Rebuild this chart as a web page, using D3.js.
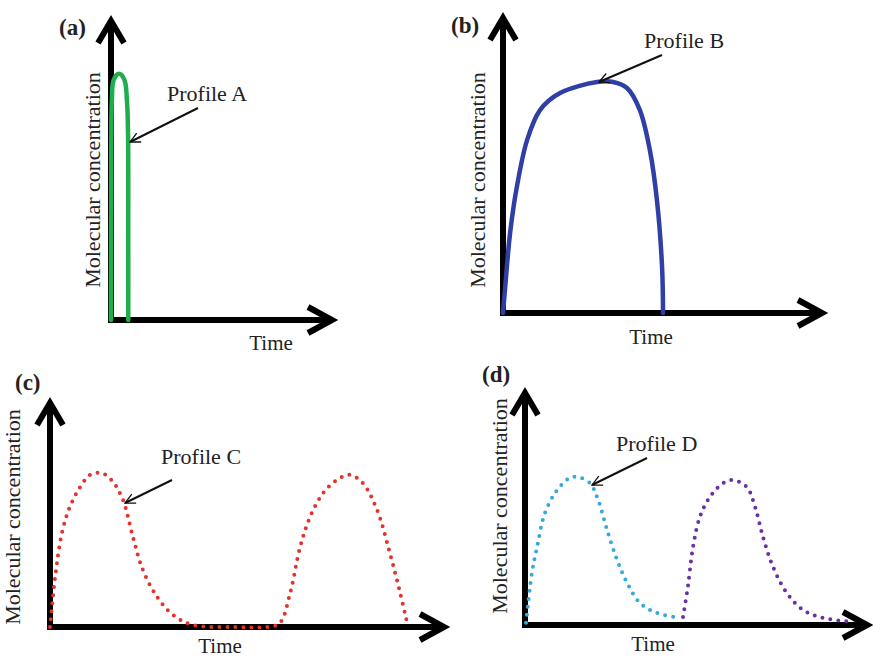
<!DOCTYPE html>
<html>
<head>
<meta charset="utf-8">
<script src="https://cdn.jsdelivr.net/npm/d3@7"></script>
</head>
<body style="margin:0;background:#fff">
<script>
// values (time, concentration), both on a 0-10 axis
var profileA = [[0,0],[0.01,4],[0.04,7.3],[0.12,7.95],[0.36,8.15],[0.6,7.95],[0.71,7.28],[0.76,6.2],[0.77,3],[0.77,0]];
var profileB = [[0,0],[0.06,0.77],[0.22,2.68],[0.43,4.23],[0.75,5.81],[1.15,6.81],[1.77,7.38],[2.92,7.75],
                [3.42,7.75],[3.85,7.55],[4.25,6.81],[4.56,5.47],[4.78,3.79],[4.94,1.54],[4.97,0]];
var profileC = [[0,0],[0.13,2.2],[0.3,4.14],[0.5,5.29],[0.76,6.17],[1.01,6.7],[1.31,6.78],[1.59,6.39],[1.84,5.59],
                [2.09,3.96],[2.34,2.51],[2.7,1.32],[3.1,0.53],[3.6,0.09],[4.61,0],[5.47,0],[5.79,0.18],[6.05,1.5],
                [6.3,3.52],[6.55,4.85],[6.88,5.9],[7.23,6.48],[7.56,6.7],[7.88,6.34],[8.24,5.15],[8.56,3.26],
                [8.82,1.5],[9.02,0]];
var profileD1 = [[0.03,0.1],[0.06,0.51],[0.2,2.21],[0.35,3.32],[0.58,4.77],[0.93,5.74],[1.3,6.26],[1.51,6.3],
                 [1.88,6.04],[2.12,5.32],[2.38,4.04],[2.67,2.77],[2.96,1.79],[3.33,0.94],[3.83,0.51],[4.49,0.3]];
var profileD2 = [[4.58,0.34],[4.72,1.62],[4.87,3.32],[5.07,4.6],[5.36,5.45],[5.74,6.04],[6.03,6.17],[6.43,5.87],
                 [6.67,5.02],[6.9,3.74],[7.19,2.47],[7.59,1.36],[8.06,0.64],[8.64,0.3],[9.51,0.13]];

var panelLabels = ["(a)", "(b)", "(c)", "(d)"];
var profileNames = ["Profile A", "Profile B", "Profile C", "Profile D"];
var xTitle = "Time", yTitle = "Molecular concentration";

var width = 873, height = 657;
var svg = d3.select("body").append("svg")
    .attr("width", width)
    .attr("height", height)
    .style("display", "block");

var defs = svg.append("defs");
defs.append("marker")
    .attr("id", "head")
    .attr("viewBox", "0 0 12 12")
    .attr("refX", 11).attr("refY", 6)
    .attr("markerWidth", 6).attr("markerHeight", 6)
    .attr("markerUnits", "strokeWidth")
    .attr("orient", "auto")
  .append("path")
    .attr("d", "M1,1 L11,6 L1,11")
    .attr("fill", "none")
    .attr("stroke", "#111")
    .attr("stroke-width", 1.3);

// panel layout: axis origin, arrow ends, label spots
var panels = [
  {ox: 111, oy: 320, xEnd: 335, yEnd: 18, tag: [59, 35], ylab: [100, 180], xlab: [271, 350],
   note: [167, 101], arrow: [[198,108],[130,142]],
   series: [{data: profileA, color: "#1fae4b", dotted: false}]},
  {ox: 503, oy: 313, xEnd: 825, yEnd: 15, tag: [451, 33], ylab: [485, 180], xlab: [651, 344],
   note: [644, 48], arrow: [[662,55],[599,82]],
   series: [{data: profileB, color: "#2f3fa6", dotted: false}]},
  {ox: 50, oy: 627, xEnd: 447, yEnd: 400, tag: [15, 390], ylab: [20, 517], xlab: [220, 653],
   note: [161, 464], arrow: [[172,480],[125,503]],
   series: [{data: profileC, color: "#e5322d", dotted: true}]},
  {ox: 525, oy: 625, xEnd: 870, yEnd: 390, tag: [482, 382], ylab: [507, 506], xlab: [653, 651],
   note: [616, 451], arrow: [[647,458],[592,485]],
   series: [{data: profileD1, color: "#38a8dc", dotted: true},
            {data: profileD2, color: "#6a30a8", dotted: true}]}
];

function label(g, size) {
  return g.append("text")
      .attr("font-family", "Liberation Serif")
      .style("font-family", "'Liberation Serif'", "important")
      .attr("font-size", size)
      .attr("fill", "#222");
}

panels.forEach(function(p, i) {
  var g = svg.append("g");

  var x = d3.scaleLinear().domain([0, 10]).range([p.ox, p.xEnd]);
  var y = d3.scaleLinear().domain([0, 10]).range([p.oy, p.yEnd]);

  var line = d3.line()
      .x(function(d) { return x(d[0]); })
      .y(function(d) { return y(d[1]); })
      .curve(d3.curveCatmullRom.alpha(0.5));

  // axes as thick arrows
  var ax = g.append("g").attr("stroke", "#000").attr("fill", "none")
      .attr("stroke-width", 6);
  ax.append("line")
      .attr("x1", x(0) - 3).attr("y1", y(0))
      .attr("x2", x(10) - 4).attr("y2", y(0));
  ax.append("line")
      .attr("x1", x(0)).attr("y1", y(0) + 3)
      .attr("x2", x(0)).attr("y2", y(10) + 4);
  ax.append("path")
      .attr("stroke-linejoin", "miter")
      .attr("d", "M" + (x(10) - 27) + "," + (y(0) - 13) + "L" + (x(10) - 3) + "," + y(0) +
                 "L" + (x(10) - 27) + "," + (y(0) + 13));
  ax.append("path")
      .attr("stroke-linejoin", "miter")
      .attr("d", "M" + (x(0) - 13) + "," + (y(10) + 25) + "L" + x(0) + "," + (y(10) + 3) +
                 "L" + (x(0) + 13) + "," + (y(10) + 25));

  // curves
  p.series.forEach(function(s) {
    g.append("path")
        .datum(s.data)
        .attr("fill", "none")
        .attr("stroke", s.color)
        .attr("stroke-width", s.dotted ? 4 : 4.5)
        .attr("stroke-linecap", "round")
        .attr("stroke-dasharray", s.dotted ? "0 8" : null)
        .attr("d", line);
  });

  // texts
  label(g, 23)
      .attr("x", p.tag[0]).attr("y", p.tag[1])
      .attr("font-weight", "bold")
      .text(panelLabels[i]);
  label(g, 22)
      .attr("transform", "translate(" + p.ylab[0] + "," + p.ylab[1] + ")rotate(-90)")
      .attr("text-anchor", "middle")
      .text(yTitle);
  label(g, 21)
      .attr("x", p.xlab[0]).attr("y", p.xlab[1])
      .attr("text-anchor", "middle")
      .text(xTitle);
  label(g, 22)
      .attr("x", p.note[0]).attr("y", p.note[1])
      .text(profileNames[i]);
  g.append("line")
      .attr("x1", p.arrow[0][0]).attr("y1", p.arrow[0][1])
      .attr("x2", p.arrow[1][0]).attr("y2", p.arrow[1][1])
      .attr("stroke", "#111").attr("stroke-width", 2)
      .attr("marker-end", "url(#head)");
});
</script>
</body>
</html>
